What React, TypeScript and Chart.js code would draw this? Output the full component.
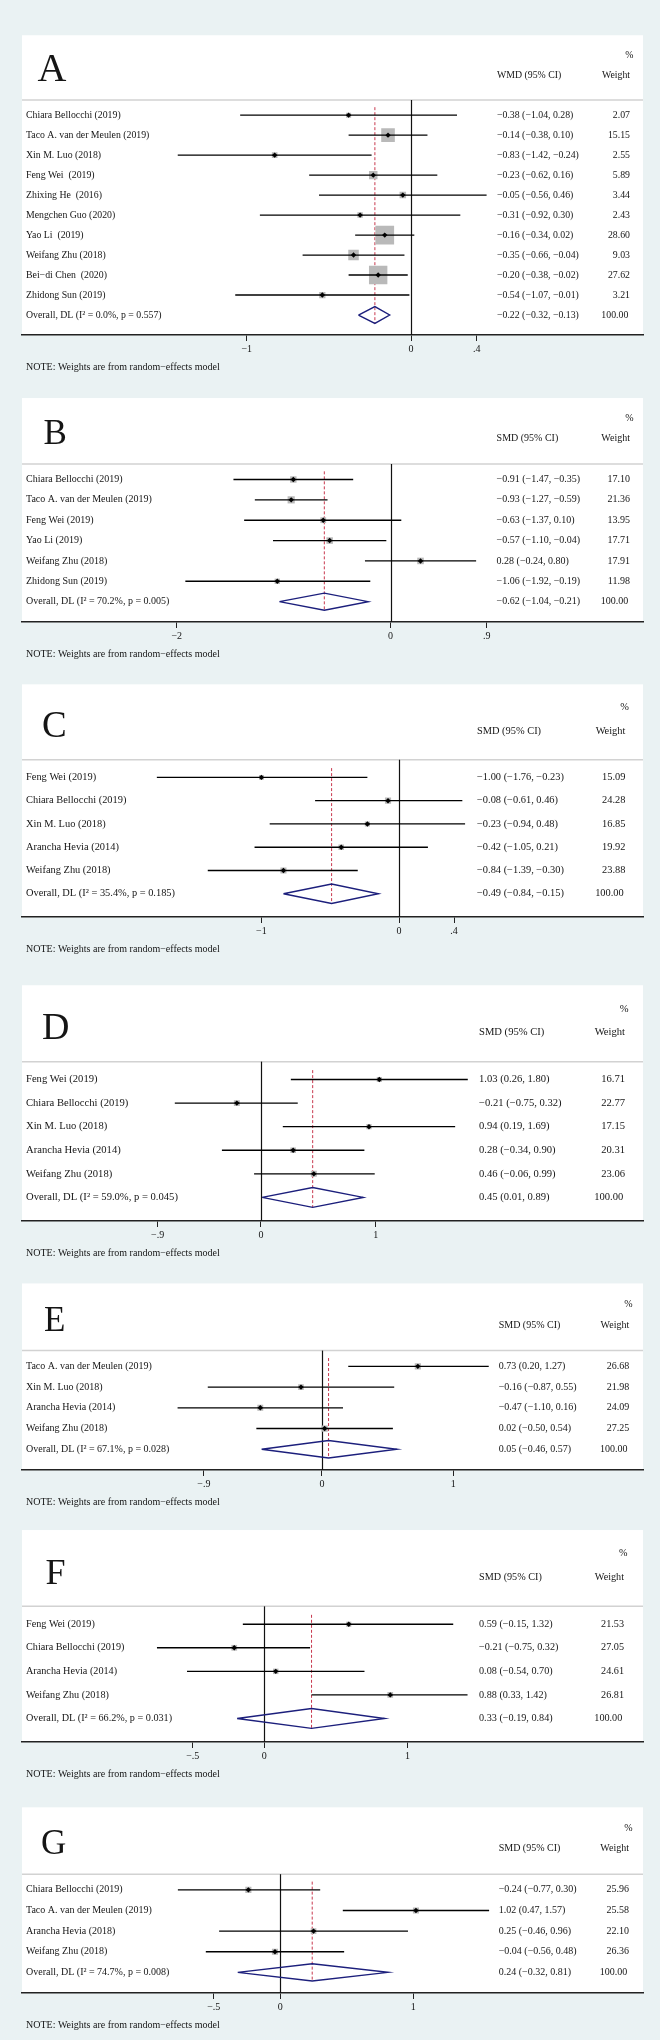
import React, { useEffect, useRef } from "react";
import { Chart, registerables } from "chart.js";

Chart.register(...registerables);

const M = "\u2212";

// ---------- Panel A (WMD) ----------
const A_STUDIES = [
  "Chiara Bellocchi (2019)",
  "Taco A. van der Meulen (2019)",
  "Xin M. Luo (2018)",
  "Feng Wei  (2019)",
  "Zhixing He  (2016)",
  "Mengchen Guo (2020)",
  "Yao Li  (2019)",
  "Weifang Zhu (2018)",
  "Bei" + M + "di Chen  (2020)",
  "Zhidong Sun (2019)",
];
const A_EST = [-0.38, -0.14, -0.83, -0.23, -0.05, -0.31, -0.16, -0.35, -0.2, -0.54];
const A_LO = [-1.04, -0.38, -1.42, -0.62, -0.56, -0.92, -0.34, -0.66, -0.38, -1.07];
const A_HI = [0.28, 0.1, -0.24, 0.16, 0.46, 0.3, 0.02, -0.04, -0.02, -0.01];
const A_WEIGHT = [2.07, 15.15, 2.55, 5.89, 3.44, 2.43, 28.6, 9.03, 27.62, 3.21];
const A_OVERALL = [-0.22, -0.32, -0.13];
const A_HET = ["0.0%", "0.557"];
const A_TICKS = [-1, 0, 0.4];
const A_TICK_LABELS = [M + "1", "0", ".4"];

// ---------- Panel B ----------
const B_STUDIES = [
  "Chiara Bellocchi (2019)",
  "Taco A. van der Meulen (2019)",
  "Feng Wei (2019)",
  "Yao Li (2019)",
  "Weifang Zhu (2018)",
  "Zhidong Sun (2019)",
];
const B_EST = [-0.91, -0.93, -0.63, -0.57, 0.28, -1.06];
const B_LO = [-1.47, -1.27, -1.37, -1.1, -0.24, -1.92];
const B_HI = [-0.35, -0.59, 0.1, -0.04, 0.8, -0.19];
const B_WEIGHT = [17.1, 21.36, 13.95, 17.71, 17.91, 11.98];
const B_OVERALL = [-0.62, -1.04, -0.21];
const B_HET = ["70.2%", "0.005"];
const B_TICKS = [-2, 0, 0.9];
const B_TICK_LABELS = [M + "2", "0", ".9"];

// ---------- Panel C ----------
const C_STUDIES = [
  "Feng Wei (2019)",
  "Chiara Bellocchi (2019)",
  "Xin M. Luo (2018)",
  "Arancha Hevia (2014)",
  "Weifang Zhu (2018)",
];
const C_EST = [-1.0, -0.08, -0.23, -0.42, -0.84];
const C_LO = [-1.76, -0.61, -0.94, -1.05, -1.39];
const C_HI = [-0.23, 0.46, 0.48, 0.21, -0.3];
const C_WEIGHT = [15.09, 24.28, 16.85, 19.92, 23.88];
const C_OVERALL = [-0.49, -0.84, -0.15];
const C_HET = ["35.4%", "0.185"];
const C_TICKS = [-1, 0, 0.4];
const C_TICK_LABELS = [M + "1", "0", ".4"];

// ---------- Panel D ----------
const D_STUDIES = [
  "Feng Wei (2019)",
  "Chiara Bellocchi (2019)",
  "Xin M. Luo (2018)",
  "Arancha Hevia (2014)",
  "Weifang Zhu (2018)",
];
const D_EST = [1.03, -0.21, 0.94, 0.28, 0.46];
const D_LO = [0.26, -0.75, 0.19, -0.34, -0.06];
const D_HI = [1.8, 0.32, 1.69, 0.9, 0.99];
const D_WEIGHT = [16.71, 22.77, 17.15, 20.31, 23.06];
const D_OVERALL = [0.45, 0.01, 0.89];
const D_HET = ["59.0%", "0.045"];
const D_TICKS = [-0.9, 0, 1];
const D_TICK_LABELS = [M + ".9", "0", "1"];

// ---------- Panel E ----------
const E_STUDIES = [
  "Taco A. van der Meulen (2019)",
  "Xin M. Luo (2018)",
  "Arancha Hevia (2014)",
  "Weifang Zhu (2018)",
];
const E_EST = [0.73, -0.16, -0.47, 0.02];
const E_LO = [0.2, -0.87, -1.1, -0.5];
const E_HI = [1.27, 0.55, 0.16, 0.54];
const E_WEIGHT = [26.68, 21.98, 24.09, 27.25];
const E_OVERALL = [0.05, -0.46, 0.57];
const E_HET = ["67.1%", "0.028"];
const E_TICKS = [-0.9, 0, 1];
const E_TICK_LABELS = [M + ".9", "0", "1"];

// ---------- Panel F ----------
const F_STUDIES = [
  "Feng Wei (2019)",
  "Chiara Bellocchi (2019)",
  "Arancha Hevia (2014)",
  "Weifang Zhu (2018)",
];
const F_EST = [0.59, -0.21, 0.08, 0.88];
const F_LO = [-0.15, -0.75, -0.54, 0.33];
const F_HI = [1.32, 0.32, 0.7, 1.42];
const F_WEIGHT = [21.53, 27.05, 24.61, 26.81];
const F_OVERALL = [0.33, -0.19, 0.84];
const F_HET = ["66.2%", "0.031"];
const F_TICKS = [-0.5, 0, 1];
const F_TICK_LABELS = [M + ".5", "0", "1"];

// ---------- Panel G ----------
const G_STUDIES = [
  "Chiara Bellocchi (2019)",
  "Taco A. van der Meulen (2019)",
  "Arancha Hevia (2018)",
  "Weifang Zhu (2018)",
];
const G_EST = [-0.24, 1.02, 0.25, -0.04];
const G_LO = [-0.77, 0.47, -0.46, -0.56];
const G_HI = [0.3, 1.57, 0.96, 0.48];
const G_WEIGHT = [25.96, 25.58, 22.1, 26.36];
const G_OVERALL = [0.24, -0.32, 0.81];
const G_HET = ["74.7%", "0.008"];
const G_TICKS = [-0.5, 0, 1];
const G_TICK_LABELS = [M + ".5", "0", "1"];

// ---------- layout / style (not data) ----------
const FONT = '"Liberation Serif", "Times New Roman", serif';
const BG = "#eaf2f3";
const NAVY = "#1c1f7c";
const RED = "#c8384e";
const BOX = "#b9b9b9";
const INK = "#151515";
const DIAMOND_HALF = 0.42;
const EXTRA_H = 45;

type Panel = {
  letter: string;
  measure: string;
  studies: string[];
  est: number[];
  lo: number[];
  hi: number[];
  weight: number[];
  overall: number[];
  het: string[];
  ticks: number[];
  tickLabels: string[];
  L: {
    top: number;
    height: number;
    xMin: number;
    xMax: number;
    font: number;
    letterSize: number;
    letterX: number;
    textX: number;
    weightX: number;
    boxK: number;
  };
};

const PANELS: Panel[] = [
  {
    letter: "A", measure: "WMD", studies: A_STUDIES, est: A_EST, lo: A_LO, hi: A_HI, weight: A_WEIGHT,
    overall: A_OVERALL, het: A_HET, ticks: A_TICKS, tickLabels: A_TICK_LABELS,
    L: { top: 22, height: 313, xMin: -2.368, xMax: 1.412, font: 9.8, letterSize: 40, letterX: 37.5, textX: 497, weightX: 630, boxK: 3.5 },
  },
  {
    letter: "B", measure: "SMD", studies: B_STUDIES, est: B_EST, lo: B_LO, hi: B_HI, weight: B_WEIGHT,
    overall: B_OVERALL, het: B_HET, ticks: B_TICKS, tickLabels: B_TICK_LABELS,
    L: { top: 393, height: 229, xMin: -3.448, xMax: 2.361, font: 10, letterSize: 35, letterX: 43.5, textX: 496.6, weightX: 630, boxK: 1.55 },
  },
  {
    letter: "C", measure: "SMD", studies: C_STUDIES, est: C_EST, lo: C_LO, hi: C_HI, weight: C_WEIGHT,
    overall: C_OVERALL, het: C_HET, ticks: C_TICKS, tickLabels: C_TICK_LABELS,
    L: { top: 680, height: 237, xMin: -2.74, xMax: 1.773, font: 10.4, letterSize: 37, letterX: 42, textX: 477, weightX: 625.4, boxK: 1.25 },
  },
  {
    letter: "D", measure: "SMD", studies: D_STUDIES, est: D_EST, lo: D_LO, hi: D_HI, weight: D_WEIGHT,
    overall: D_OVERALL, het: D_HET, ticks: D_TICKS, tickLabels: D_TICK_LABELS,
    L: { top: 981, height: 240, xMin: -2.08, xMax: 3.325, font: 10.6, letterSize: 38, letterX: 42, textX: 479, weightX: 625, boxK: 1.25 },
  },
  {
    letter: "E", measure: "SMD", studies: E_STUDIES, est: E_EST, lo: E_LO, hi: E_HI, weight: E_WEIGHT,
    overall: E_OVERALL, het: E_HET, ticks: E_TICKS, tickLabels: E_TICK_LABELS,
    L: { top: 1279, height: 191, xMin: -2.285, xMax: 2.445, font: 10, letterSize: 35, letterX: 44, textX: 498.7, weightX: 629.2, boxK: 1.2 },
  },
  {
    letter: "F", measure: "SMD", studies: F_STUDIES, est: F_EST, lo: F_LO, hi: F_HI, weight: F_WEIGHT,
    overall: F_OVERALL, het: F_HET, ticks: F_TICKS, tickLabels: F_TICK_LABELS,
    L: { top: 1526, height: 216, xMin: -1.693, xMax: 2.646, font: 10.2, letterSize: 36, letterX: 45.5, textX: 479, weightX: 624, boxK: 1.1 },
  },
  {
    letter: "G", measure: "SMD", studies: G_STUDIES, est: G_EST, lo: G_LO, hi: G_HI, weight: G_WEIGHT,
    overall: G_OVERALL, het: G_HET, ticks: G_TICKS, tickLabels: G_TICK_LABELS,
    L: { top: 1803, height: 190, xMin: -1.942, xMax: 2.727, font: 10, letterSize: 35, letterX: 41, textX: 498.7, weightX: 629, boxK: 1.2 },
  },
];

function fmt(v: number): string {
  return (v < 0 ? M : "") + Math.abs(v).toFixed(2);
}
function ciText(e: number, l: number, h: number): string {
  return `${fmt(e)} (${fmt(l)}, ${fmt(h)})`;
}

function buildConfig(p: Panel): any {
  const n = p.studies.length;
  const ovRow = n + 1;
  const [oEst, oLo, oHi] = p.overall;
  const L = p.L;

  const datasets: any[] = [];
  datasets.push({
    label: "weight boxes",
    data: p.est.map((e, i) => ({ x: e, y: i + 1 })),
    pointStyle: "rect",
    pointRadius: p.weight.map((w) => (L.boxK * Math.sqrt(w)) / Math.SQRT2),
    backgroundColor: BOX,
    borderWidth: 0,
    order: 5,
  });
  p.studies.forEach((_, i) => {
    datasets.push({
      label: "ci" + i,
      data: [
        { x: p.lo[i], y: i + 1 },
        { x: p.hi[i], y: i + 1 },
      ],
      showLine: true,
      borderColor: "#000",
      borderWidth: 1.35,
      pointRadius: 0,
      order: 4,
    });
  });
  datasets.push({
    label: "overall",
    data: [
      { x: oLo, y: ovRow },
      { x: oEst, y: ovRow - DIAMOND_HALF },
      { x: oHi, y: ovRow },
      { x: oEst, y: ovRow + DIAMOND_HALF },
      { x: oLo, y: ovRow },
    ],
    showLine: true,
    borderColor: NAVY,
    borderWidth: 1.4,
    borderJoinStyle: "miter",
    pointRadius: 0,
    fill: false,
    tension: 0,
    order: 3,
  });
  datasets.push({
    label: "estimates",
    data: p.est.map((e, i) => ({ x: e, y: i + 1 })),
    pointStyle: "rectRot",
    pointRadius: 2.7,
    backgroundColor: "#000",
    borderWidth: 0,
    order: 1,
  });

  const font = (s: number) => `${s}px ${FONT}`;

  const forestPlugin = {
    id: "forest" + p.letter,
    beforeDraw(chart: any) {
      const { ctx, chartArea } = chart;
      ctx.save();
      ctx.fillStyle = "#ffffff";
      ctx.fillRect(chartArea.left, chartArea.top, chartArea.right - chartArea.left, chartArea.bottom - chartArea.top);
      ctx.restore();
    },
    beforeDatasetsDraw(chart: any) {
      const { ctx, chartArea } = chart;
      const xs = chart.scales.x;
      const ys = chart.scales.y;
      ctx.save();
      // header separator
      const sepY = ys.getPixelForValue(0.24);
      ctx.strokeStyle = "#d2d2d2";
      ctx.lineWidth = 1.5;
      ctx.beginPath();
      ctx.moveTo(chartArea.left, sepY);
      ctx.lineTo(chartArea.right, sepY);
      ctx.stroke();
      // null line
      const x0 = Math.round(xs.getPixelForValue(0)) + 0.5;
      ctx.strokeStyle = "#111";
      ctx.lineWidth = 1.2;
      ctx.beginPath();
      ctx.moveTo(x0, sepY);
      ctx.lineTo(x0, chartArea.bottom);
      ctx.stroke();
      // overall effect line
      const xo = xs.getPixelForValue(oEst);
      ctx.strokeStyle = RED;
      ctx.lineWidth = 1;
      ctx.setLineDash([3, 2]);
      ctx.beginPath();
      ctx.moveTo(xo, ys.getPixelForValue(0.6));
      ctx.lineTo(xo, ys.getPixelForValue(ovRow + DIAMOND_HALF));
      ctx.stroke();
      ctx.restore();
    },
    afterDraw(chart: any) {
      const { ctx, chartArea } = chart;
      const ys = chart.scales.y;
      ctx.save();
      ctx.fillStyle = INK;
      ctx.textBaseline = "middle";
      ctx.font = font(L.font);
      // headers
      ctx.textAlign = "right";
      ctx.fillText("%", L.weightX + 3.5, ys.getPixelForValue(-2));
      ctx.fillText("Weight", L.weightX, ys.getPixelForValue(-1));
      ctx.textAlign = "left";
      ctx.fillText(`${p.measure} (95% CI)`, L.textX, ys.getPixelForValue(-1));
      // rows
      p.studies.forEach((s, i) => {
        const y = ys.getPixelForValue(i + 1);
        ctx.textAlign = "left";
        ctx.fillText(s, 26, y);
        ctx.fillText(ciText(p.est[i], p.lo[i], p.hi[i]), L.textX, y);
        ctx.textAlign = "right";
        ctx.fillText(p.weight[i].toFixed(2), L.weightX, y);
      });
      const yo = ys.getPixelForValue(ovRow);
      ctx.textAlign = "left";
      ctx.fillText(`Overall, DL (I\u00B2 = ${p.het[0]}, p = ${p.het[1]})`, 26, yo);
      ctx.fillText(ciText(oEst, oLo, oHi), L.textX, yo);
      ctx.textAlign = "right";
      ctx.fillText((100).toFixed(2), L.weightX - 1.7, yo);
      // panel letter
      ctx.textAlign = "left";
      ctx.textBaseline = "alphabetic";
      ctx.font = font(L.letterSize);
      ctx.fillText(p.letter, L.letterX, ys.getPixelForValue(-0.72));
      // note
      ctx.textBaseline = "middle";
      ctx.font = font(10);
      ctx.fillText("NOTE: Weights are from random" + M + "effects model", 26, chartArea.bottom + 32);
      ctx.restore();
    },
  };

  return {
    type: "scatter",
    data: { datasets },
    options: {
      animation: false,
      responsive: false,
      devicePixelRatio: 1,
      events: [],
      layout: { padding: { top: 0, left: 22, right: 17, bottom: 5 } },
      plugins: { legend: { display: false }, tooltip: { enabled: false }, title: { display: false } },
      scales: {
        x: {
          type: "linear",
          min: L.xMin,
          max: L.xMax,
          afterBuildTicks: (s: any) => {
            s.ticks = p.ticks.map((v) => ({ value: v }));
          },
          afterFit: (s: any) => {
            s.height = 40;
          },
          ticks: {
            autoSkip: false,
            maxRotation: 0,
            padding: 2,
            color: INK,
            font: { family: FONT, size: 10 },
            callback: (_v: any, i: number) => p.tickLabels[i],
          },
          grid: { drawOnChartArea: false, drawTicks: true, tickLength: 6, color: "#222", lineWidth: 1 },
          border: { display: true, color: "#222", width: 1.5 },
        },
        y: { type: "linear", min: -3, max: n + 2, reverse: true, display: false },
      },
    },
    plugins: [forestPlugin],
  };
}

function ForestPanel({ panel }: { panel: Panel }) {
  const ref = useRef<HTMLCanvasElement | null>(null);
  useEffect(() => {
    if (!ref.current) return;
    const chart = new Chart(ref.current, buildConfig(panel));
    return () => chart.destroy();
  }, [panel]);
  const h = panel.L.height + EXTRA_H;
  return (
    <canvas
      ref={ref}
      width={660}
      height={h}
      style={{ position: "absolute", left: 0, top: panel.L.top, width: 660, height: h, display: "block" }}
    />
  );
}

export default function App() {
  return (
    <div style={{ position: "absolute", left: 0, top: 0, width: 660, height: 2040, background: BG, overflow: "hidden" }}>
      {PANELS.map((p) => (
        <ForestPanel key={p.letter} panel={p} />
      ))}
    </div>
  );
}
